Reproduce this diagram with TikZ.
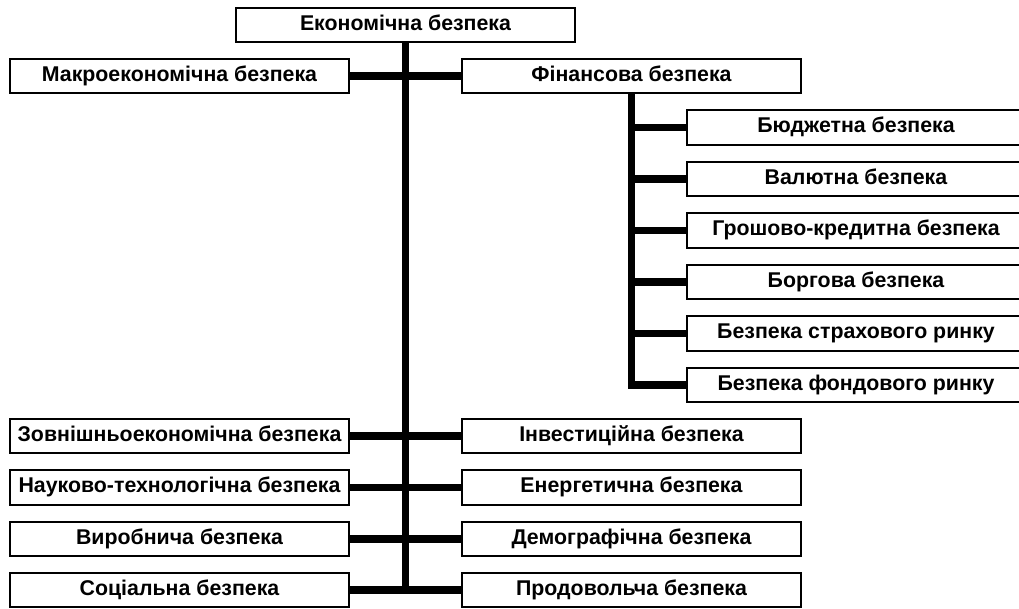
\documentclass[tikz,border=0pt]{standalone}
\usepackage{fontspec}
\setmainfont{Liberation Sans}
\usepackage{tikz}
\tikzstyle{box} = [draw, line width=1.4pt, fill=white, inner sep=0pt, minimum width=254.25pt, minimum height=26pt, text height=11.5pt, text depth=3.5pt, font=\bfseries\fontsize{16}{18}\selectfont]
\tikzstyle{subbox} = [box, minimum width=250.5pt]
\tikzstyle{link} = [line width=5.3pt, line join=miter]

\begin{document}
\begin{tikzpicture}[x=0.75pt,y=0.75pt,yscale=-1,xscale=1]
\useasboundingbox (0,0) rectangle (1019,608);

% Text Node
\node [box] (ekon) at (405.5,25) {Економічна безпека};
% left column
\node [box] (makro) at (179.5,76) {Макроекономічна безпека};
\node [box] (zovn) at (179.5,436) {Зовнішньоекономічна безпека};
\node [box] (nauk) at (179.5,487.5) {Науково-технологічна безпека};
\node [box] (vyrob) at (179.5,539) {Виробнича безпека};
\node [box] (sots) at (179.5,590) {Соціальна безпека};
% right column
\node [box] (fin) at (631.5,76) {Фінансова безпека};
\node [box] (invest) at (631.5,436) {Інвестиційна безпека};
\node [box] (energ) at (631.5,487.5) {Енергетична безпека};
\node [box] (demogr) at (631.5,539) {Демографічна безпека};
\node [box] (prod) at (631.5,590) {Продовольча безпека};
% financial branch
\node [subbox] (budzh) at (854,127.5) {\hspace*{3pt}Бюджетна безпека};
\node [subbox] (valut) at (854,179) {\hspace*{3pt}Валютна безпека};
\node [subbox] (hrosh) at (854,230.5) {\hspace*{3pt}Грошово-кредитна безпека};
\node [subbox] (borh) at (854,282) {\hspace*{3pt}Боргова безпека};
\node [subbox] (strakh) at (854,333.5) {\hspace*{3pt}Безпека страхового ринку};
\node [subbox] (fond) at (854,385) {\hspace*{3pt}Безпека фондового ринку};

\coordinate (trunkend) at (405.5,593);

% Straight Lines
\draw [link] (ekon.south) -- (trunkend);
\draw [link] (makro.east) -- (fin.west);
\draw [link] (zovn.east) -- (invest.west);
\draw [link] (nauk.east) -- (energ.west);
\draw [link] (vyrob.east) -- (demogr.west);
\draw [link] (sots.east) -- (prod.west);

\draw [link] (fin.south) |- (fond.west);
\draw [link] (fin.south |- budzh.west) -- (budzh.west);
\draw [link] (fin.south |- valut.west) -- (valut.west);
\draw [link] (fin.south |- hrosh.west) -- (hrosh.west);
\draw [link] (fin.south |- borh.west) -- (borh.west);
\draw [link] (fin.south |- strakh.west) -- (strakh.west);

\end{tikzpicture}
\end{document}
